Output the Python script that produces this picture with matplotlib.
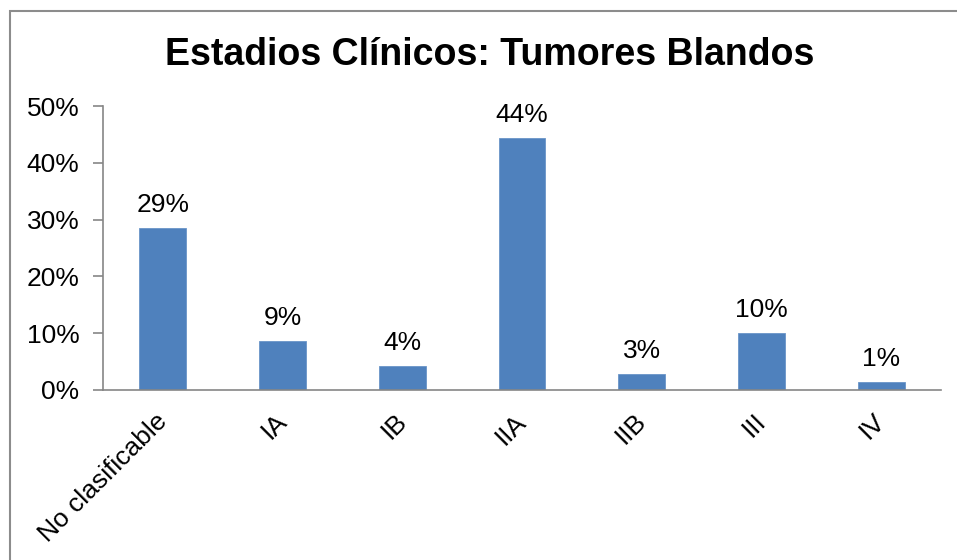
import matplotlib.pyplot as plt
from matplotlib.patches import Rectangle
from matplotlib.ticker import FuncFormatter
from matplotlib.transforms import ScaledTranslation

# casos por estadio clinico (n = 70)
estadios = ["No clasificable", "IA", "IB", "IIA", "IIB", "III", "IV"]
casos = [20, 6, 3, 31, 2, 7, 1]
total = sum(casos)
porcentajes = [100.0 * c / total for c in casos]

plt.rcParams['font.family'] = ['Liberation Sans', 'DejaVu Sans']

fig = plt.figure(figsize=(9.57, 5.6), dpi=100)
ax = fig.add_axes([0.1076, 0.3036, 0.8757, 0.5071])

# marco gris del grafico
fig.patches.append(Rectangle((10 / 957, -0.1), 1.2, 1.1 - 11 / 560,
                             transform=fig.transFigure, fill=False,
                             edgecolor='#8c8c8c', linewidth=1.5))

x = range(len(estadios))
bars = ax.bar(x, porcentajes, width=0.39, color='#4F81BD', edgecolor='#6a95c8', linewidth=0.6)

for xi, p in zip(x, porcentajes):
    ax.annotate(f"{round(p)}%", (xi, p), xytext=(0, 11.5), textcoords='offset points',
                ha='center', va='baseline', fontsize=19)

ax.set_xlim(-0.5, len(estadios) - 0.5)
ax.set_ylim(0, 50)
ax.set_yticks(range(0, 51, 10))
ax.yaxis.set_major_formatter(FuncFormatter(lambda v, pos: f"{int(v)}%"))
ax.tick_params(axis='y', labelsize=19, length=7, color='#868686', width=1.2, pad=10)
ax.tick_params(axis='x', length=0, pad=14)
ax.set_xticks(list(x))
ax.set_xticklabels(estadios, rotation=45, ha='right', va='top', rotation_mode='anchor', fontsize=19)
shift = ScaledTranslation(-8 / 100, 0, fig.dpi_scale_trans)
for lbl in ax.get_xticklabels():
    lbl.set_transform(lbl.get_transform() + shift)

for side in ['top', 'right']:
    ax.spines[side].set_visible(False)
for side in ['left', 'bottom']:
    ax.spines[side].set_color('#868686')
    ax.spines[side].set_linewidth(1.2)

fig.text(0.512, 0.902, "Estadios Clínicos: Tumores Blandos", ha='center', va='center',
         fontsize=27, fontweight='bold')

fig.savefig('out.png', dpi=100)
